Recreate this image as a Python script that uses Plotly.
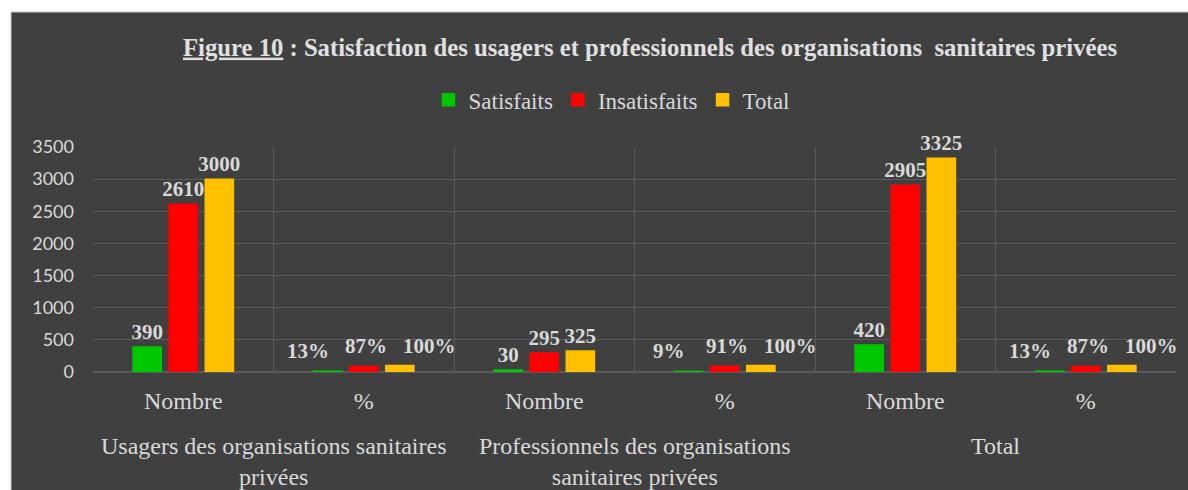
import plotly.graph_objects as go

inner_labels = ["Nombre", "%", "Nombre", "%", "Nombre", "%"]
outer_labels = ["Usagers des organisations sanitaires<br>privées",
                "Professionnels des organisations<br>sanitaires privées",
                "Total"]
series_names = ["Satisfaits", "Insatisfaits", "Total"]
satisfaits = [390, 13, 30, 9, 420, 13]
insatisfaits = [2610, 87, 295, 91, 2905, 87]
total = [3000, 100, 325, 100, 3325, 100]
sat_text = ["390", "13%", "30", "9%", "420", "13%"]
ins_text = ["2610", "87%", "295", "91%", "2905", "87%"]
tot_text = ["3000", "100%", "325", "100%", "3325", "100%"]
y_ticks = [0, 500, 1000, 1500, 2000, 2500, 3000, 3500]
colors = ["#00c800", "#ff0000", "#ffc000"]

xpos = list(range(len(inner_labels)))
serif = "Liberation Serif"
label_col = "#d9d9d9"
label_font = dict(family=serif, size=21, color=label_col, weight="bold")
# horizontal shift (px) of the % data labels, spread out like Excel does
pct_label_shift = [-56, 2, 66]

fig = go.Figure()
for k, (name, vals, txt, col) in enumerate(zip(series_names,
                                               [satisfaits, insatisfaits, total],
                                               [sat_text, ins_text, tot_text], colors)):
    bar_txt = [t if lab == "Nombre" else "" for t, lab in zip(txt, inner_labels)]
    fig.add_trace(go.Bar(
        x=xpos, y=vals, name=name, text=bar_txt, textposition="outside",
        cliponaxis=False, constraintext="none", textfont=label_font,
        marker=dict(color=col, line=dict(color=col, width=1.5)),
    ))
    for i, (t, lab, v) in enumerate(zip(txt, inner_labels, vals)):
        if lab == "%":
            fig.add_annotation(x=i, xref="x", y=v, yref="y", text=t, showarrow=False,
                               xshift=pct_label_shift[k], yanchor="bottom", yshift=6,
                               font=label_font)

# dark panel background
fig.add_shape(type="rect", xref="paper", yref="paper",
              x0=-0.0757, x1=1.03, y0=-0.6, y1=1.6,
              fillcolor="#404040", line=dict(color="#c8c8c8", width=1), layer="below")

for i, lab in enumerate(outer_labels):
    fig.add_annotation(x=2 * i + 0.5, xref="x", y=-0.262, yref="paper",
                       text=lab, showarrow=False, yanchor="top",
                       font=dict(family=serif, size=24, color=label_col))

fig.update_layout(
    width=1188, height=490,
    paper_bgcolor="white", plot_bgcolor="rgba(0,0,0,0)",
    margin=dict(l=93, r=12, t=147, b=118),
    barmode="group", bargap=0.40, bargroupgap=0.22,
    title=dict(text="<span style='text-decoration:underline'>Figure 10</span> : Satisfaction des usagers et professionnels des organisations  sanitaires privées",
               x=650 / 1188, xref="container", xanchor="center",
               y=1 - 47 / 490, yref="container", yanchor="middle",
               font=dict(family=serif, size=24.7, color="#e0e0e0", weight="bold")),
    legend=dict(orientation="h", x=(612 - 93) / 1083, xanchor="center", y=1.21, yanchor="middle",
                font=dict(family=serif, size=23, color=label_col),
                bgcolor="rgba(0,0,0,0)", itemwidth=30, traceorder="normal"),
    showlegend=True,
)
fig.update_xaxes(range=[-0.5, 5.5], tickvals=xpos, ticktext=inner_labels,
                 showgrid=False, zeroline=False, showline=False, ticks="",
                 tickfont=dict(family=serif, size=24, color=label_col),
                 minor=dict(tickvals=[-0.5, 0.5, 1.5, 2.5, 3.5, 4.5, 5.5],
                            showgrid=True, gridcolor="#5a5a5a", gridwidth=1, ticks=""),
                 ticklabelstandoff=12)
fig.update_yaxes(range=[0, 3500], tickvals=y_ticks, showgrid=True, gridcolor="#5a5a5a",
                 zeroline=True, zerolinecolor="#5a5a5a", showline=False, ticks="",
                 tickfont=dict(family="Lato", size=18, color=label_col),
                 ticklabelstandoff=18)

fig.write_html("out.html", config={"displayModeBar": False},
               post_script="document.body.style.margin='0';document.body.style.overflow='hidden';")
